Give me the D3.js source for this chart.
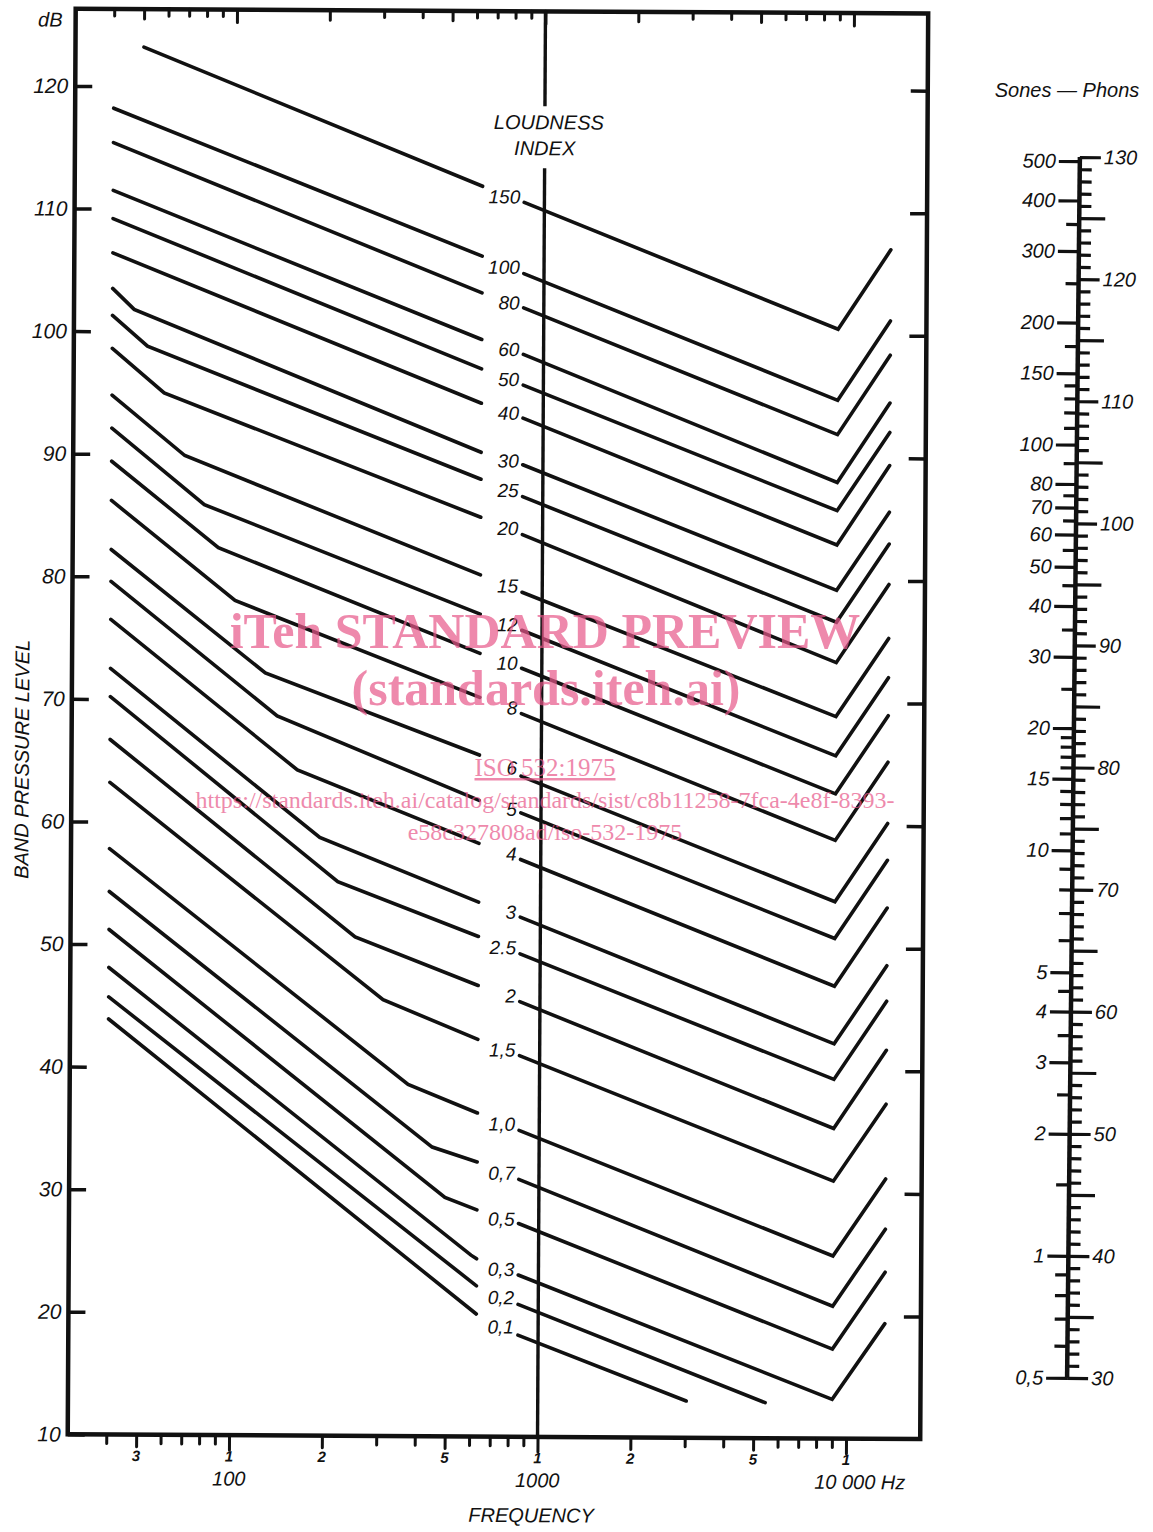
<!DOCTYPE html>
<html>
<head>
<meta charset="utf-8">
<script src="https://cdn.jsdelivr.net/npm/d3@7"></script>
<style>
  body { margin: 0; background: #fff; }
  svg { display: block; }
  text { font-family: "Liberation Sans", Arial, sans-serif; font-style: italic; fill: #111; }
  .wm { font-family: "Liberation Serif", "Times New Roman", serif; font-style: normal; fill: #e8588a; opacity: 0.7; }
</style>
</head>
<body>
<script>
// loudness index of each contour, top to bottom
const indexLabels = ["150", "100", "80", "60", "50", "40", "30", "25", "20", "15", "12", "10", "8",
  "6", "5", "4", "3", "2.5", "2", "1,5", "1,0", "0,7", "0,5", "0,3", "0,2", "0,1"];

// left half of each contour: [Hz, dB]
const leftParts = [
  [[50, 123.2], [630, 112.0]],
  [[40, 118.2], [630, 106.3]],
  [[40, 115.4], [630, 103.3]],
  [[40, 111.5], [630, 99.5]],
  [[40, 109.2], [630, 97.1]],
  [[40, 106.4], [630, 94.3]],
  [[40, 103.5], [47, 101.8], [630, 90.3]],
  [[40, 101.3], [52, 98.8], [630, 88.1]],
  [[40, 98.6], [59, 95.0], [630, 85.0]],
  [[40, 94.8], [69, 89.9], [630, 80.3]],
  [[40, 92.1], [80, 85.9], [630, 77.1]],
  [[40, 89.4], [89, 82.4], [630, 73.9]],
  [[40, 86.2], [101, 78.1], [630, 70.3]],
  [[40, 82.2], [127, 72.2], [630, 65.6]],
  [[40, 79.6], [139, 68.7], [630, 61.9]],
  [[40, 76.5], [162, 64.3], [630, 58.4]],
  [[40, 72.5], [192, 58.8], [630, 53.6]],
  [[40, 70.2], [220, 55.2], [630, 50.8]],
  [[40, 66.7], [251, 50.7], [630, 46.8]],
  [[40, 63.2], [310, 45.6], [630, 42.4]],
  [[40, 57.8], [375, 38.7], [630, 36.4]],
  [[40, 54.3], [450, 33.6], [630, 32.4]],
  [[40, 51.2], [496, 29.5], [630, 28.5]],
  [[40, 48.1], [604, 24.8], [630, 24.5]],
  [[40, 45.7], [630, 22.3]],
  [[40, 43.9], [630, 20.0]]
];

// right half of each contour: [Hz, dB]
const rightParts = [
  [[860, 110.7], [9000, 100.5], [13300, 107.0]],
  [[860, 104.9], [9000, 94.7], [13300, 101.2]],
  [[860, 102.1], [9000, 91.9], [13300, 98.4]],
  [[860, 98.3], [9000, 88.0], [13300, 94.5]],
  [[860, 95.8], [9000, 85.7], [13300, 92.1]],
  [[860, 93.1], [9000, 82.9], [13300, 89.4]],
  [[860, 89.3], [9000, 79.2], [13300, 85.6]],
  [[860, 86.7], [9000, 76.6], [13300, 83.0]],
  [[860, 83.6], [9000, 73.3], [13300, 79.7]],
  [[860, 78.9], [9000, 68.9], [13300, 75.3]],
  [[860, 75.8], [9000, 65.7], [13300, 72.1]],
  [[860, 72.7], [9000, 62.6], [13300, 69.0]],
  [[860, 69.0], [9000, 58.8], [13300, 65.2]],
  [[860, 63.9], [9000, 53.8], [13300, 60.2]],
  [[860, 60.9], [9000, 50.8], [13300, 57.2]],
  [[860, 57.1], [9000, 46.9], [13300, 53.3]],
  [[860, 52.4], [9000, 42.2], [13300, 48.6]],
  [[860, 49.4], [9000, 39.3], [13300, 45.7]],
  [[860, 45.5], [9000, 35.3], [13300, 41.7]],
  [[860, 41.1], [9000, 31.0], [13300, 37.3]],
  [[860, 35.0], [9000, 24.9], [13300, 31.2]],
  [[860, 31.0], [9000, 20.8], [13300, 27.1]],
  [[860, 27.4], [9000, 17.3], [13300, 23.6]],
  [[860, 23.2], [9000, 13.2], [13300, 19.4]],
  [[860, 20.8], [5460, 12.9]],
  [[860, 18.3], [3030, 13.0]]
];

const dbTicks = [10, 20, 30, 40, 50, 60, 70, 80, 90, 100, 110, 120];
const freqTicks = [40, 50, 60, 70, 80, 90, 100, 200, 300, 400, 500, 600, 700, 800, 900,
  1000, 2000, 3000, 4000, 5000, 6000, 7000, 8000, 9000, 10000];
const freqDigitTicks = [50, 100, 200, 500, 1000, 2000, 5000, 10000];
const freqDigitText = ["3", "1", "2", "5", "1", "2", "5", "1"];
const freqBigTicks = [100, 1000, 10000];
const freqBigText = ["100", "1000", "10 000 Hz"];

const phonLabels = [30, 40, 50, 60, 70, 80, 90, 100, 110, 120, 130];
const soneLabels = [0.5, 1, 2, 3, 4, 5, 10, 15, 20, 30, 40, 50, 60, 70, 80, 100, 150, 200, 300, 400, 500];
const soneMinor = [0.6, 0.7, 0.8, 0.9, 1.5, 2.5, 3.5, 4.5, 6, 7, 8, 9, 11, 12, 13, 14, 16, 17, 18, 19,
  25, 35, 45, 55, 65, 75, 90, 110, 120, 130, 140, 175, 250, 350];

const fMin = 30, fMax = 17400, dbMin = 10, dbMax = 126.3;

const W = 1153, H = 1532;
const svg = d3.select("body").append("svg")
  .attr("width", W)
  .attr("height", H);

svg.append("rect").attr("width", W).attr("height", H).attr("fill", "#fff");

// the scanned sheet sits a little askew
const chart = svg.append("g").attr("transform", "rotate(0.32,500,725)");

const x = d3.scaleLog().domain([fMin, fMax]).range([71.7, 924.2]);
const y = d3.scaleLinear().domain([dbMin, dbMax]).range([1436.7, 11.1]);

// frame
chart.append("rect")
  .attr("x", x(fMin)).attr("y", y(dbMax))
  .attr("width", x(fMax) - x(fMin)).attr("height", y(dbMin) - y(dbMax))
  .attr("fill", "none").attr("stroke", "#111").attr("stroke-width", 4.5);

// frequency ticks, top and bottom, length by leading digit
function tickLen(f) {
  const lead = Math.round(f / Math.pow(10, Math.floor(Math.log10(f) + 1e-9)));
  return lead === 1 ? 15 : (lead === 2 || lead === 5) ? 12 : 9;
}
[9, 12, 15].forEach(len => {
  const vals = freqTicks.filter(f => tickLen(f) === len);
  chart.append("g")
    .attr("transform", `translate(0,${y(dbMin)})`)
    .call(d3.axisBottom(x).tickValues(vals).tickSize(len).tickFormat(""))
    .call(g => g.select(".domain").remove())
    .call(g => g.selectAll("line").attr("stroke", "#111").attr("stroke-width", 3).attr("stroke-linecap", "round"));
  chart.append("g")
    .attr("transform", `translate(0,${y(dbMax)})`)
    .call(d3.axisTop(x).tickValues(vals).tickSize(-len + 2).tickFormat(""))
    .call(g => g.select(".domain").remove())
    .call(g => g.selectAll("line").attr("stroke", "#111").attr("stroke-width", 3).attr("stroke-linecap", "round"));
});

// small digit labels under the frequency ticks
chart.selectAll(".fdig").data(freqDigitTicks).join("text")
  .attr("class", "fdig")
  .attr("x", d => x(d))
  .attr("y", 1463)
  .attr("text-anchor", "middle")
  .style("font-size", "15px")
  .style("font-weight", "bold")
  .text((d, i) => freqDigitText[i]);

chart.selectAll(".fbig").data(freqBigTicks).join("text")
  .attr("class", "fbig")
  .attr("x", d => x(d))
  .attr("dx", (d, i) => i === 2 ? 14 : 0)
  .attr("y", 1487)
  .attr("text-anchor", "middle")
  .style("font-size", "20px")
  .text((d, i) => freqBigText[i]);

chart.append("text")
  .attr("x", x(1000) - 6).attr("y", 1522)
  .attr("text-anchor", "middle")
  .style("font-size", "20px")
  .text("FREQUENCY");

// dB axis, left with labels, right ticks only
chart.append("g")
  .attr("transform", `translate(${x(fMin)},0)`)
  .call(d3.axisLeft(y).tickValues(dbTicks).tickSize(-17).tickPadding(7).tickFormat(d3.format("d")))
  .call(g => g.select(".domain").remove())
  .call(g => g.attr("font-family", null).attr("font-size", null))
  .call(g => g.selectAll("line").attr("stroke", "#111").attr("stroke-width", 3.5))
  .call(g => g.selectAll("text").style("font-size", "21px").attr("fill", "#111"));

chart.append("g")
  .attr("transform", `translate(${x(fMax)},0)`)
  .call(d3.axisRight(y).tickValues(dbTicks.slice(1)).tickSize(-17).tickFormat(""))
  .call(g => g.select(".domain").remove())
  .call(g => g.selectAll("line").attr("stroke", "#111").attr("stroke-width", 3.5));

chart.append("text")
  .attr("x", x(fMin) - 13).attr("y", 29)
  .attr("text-anchor", "end")
  .style("font-size", "20px")
  .text("dB");

chart.append("text")
  .attr("transform", "translate(29,762) rotate(-90)")
  .attr("text-anchor", "middle")
  .style("font-size", "20px")
  .text("BAND PRESSURE LEVEL");

// 1000 Hz line, broken for the heading
chart.append("line")
  .attr("x1", x(1000)).attr("x2", x(1000))
  .attr("y1", y(dbMax)).attr("y2", 106)
  .attr("stroke", "#111").attr("stroke-width", 3.4);
chart.append("line")
  .attr("x1", x(1000)).attr("x2", x(1000))
  .attr("y1", 168).attr("y2", y(dbMin))
  .attr("stroke", "#111").attr("stroke-width", 3.4);

chart.append("text")
  .attr("x", x(1000) + 4).attr("y", 129)
  .attr("text-anchor", "middle")
  .style("font-size", "20px")
  .text("LOUDNESS");
chart.append("text")
  .attr("x", x(1000)).attr("y", 155)
  .attr("text-anchor", "middle")
  .style("font-size", "20px")
  .text("INDEX");

// contours
const line = d3.line().x(d => x(d[0])).y(d => y(d[1]));
const curves = chart.append("g")
  .attr("fill", "none")
  .attr("stroke", "#111")
  .attr("stroke-width", 3.6)
  .attr("stroke-linecap", "round")
  .attr("stroke-linejoin", "miter");
curves.selectAll(".lpart").data(leftParts).join("path").attr("class", "lpart").attr("d", line);
curves.selectAll(".rpart").data(rightParts).join("path").attr("class", "rpart").attr("d", line);

chart.selectAll(".idx").data(indexLabels).join("text")
  .attr("class", "idx")
  .attr("x", x(860) - 4)
  .attr("y", (d, i) => (y(leftParts[i][leftParts[i].length - 1][1]) + y(rightParts[i][0][1])) / 2 + 9)
  .attr("text-anchor", "end")
  .style("font-size", "19px")
  .text(d => d);

// sones / phons scale
const scaleG = svg.append("g").attr("transform", "rotate(0.6,1073,767)");
const sx = 1073.5;
const py = d3.scaleLinear().domain([30, 130]).range([1378, 157]);
const sy = d3.scaleLog().base(2).domain([0.5, 512]).range([1378, 157]);

const phonAll = d3.range(30, 131);
const phonSets = [
  { vals: phonAll.filter(p => p % 5 !== 0), len: 12, lab: false },
  { vals: phonAll.filter(p => p % 5 === 0 && p % 10 !== 0), len: 26, lab: false },
  { vals: phonLabels, len: 21, lab: true }
];
phonSets.forEach(s => {
  scaleG.append("g")
    .attr("transform", `translate(${sx},0)`)
    .call(d3.axisRight(py).tickValues(s.vals).tickSize(s.len).tickPadding(3)
      .tickFormat(s.lab ? d3.format("d") : ""))
    .call(g => g.select(".domain").remove())
    .call(g => g.attr("font-family", null).attr("font-size", null))
    .call(g => g.selectAll("line").attr("stroke", "#111").attr("stroke-width", 3.2))
    .call(g => g.selectAll("text").style("font-size", "20px").attr("fill", "#111"));
});

scaleG.append("g")
  .attr("transform", `translate(${sx},0)`)
  .call(d3.axisLeft(sy).tickValues(soneMinor).tickSize(13).tickFormat(""))
  .call(g => g.select(".domain").remove())
  .call(g => g.selectAll("line").attr("stroke", "#111").attr("stroke-width", 3.2));

scaleG.append("g")
  .attr("transform", `translate(${sx},0)`)
  .call(d3.axisLeft(sy).tickValues(soneLabels).tickSize(21).tickPadding(3)
    .tickFormat(d => String(d).replace(".", ",")))
  .call(g => g.select(".domain").remove())
  .call(g => g.attr("font-family", null).attr("font-size", null))
  .call(g => g.selectAll("line").attr("stroke", "#111").attr("stroke-width", 3.2))
  .call(g => g.selectAll("text").style("font-size", "20px").attr("fill", "#111"));

scaleG.append("line")
  .attr("x1", sx).attr("x2", sx)
  .attr("y1", py(130)).attr("y2", py(30))
  .attr("stroke", "#111").attr("stroke-width", 4.5);

svg.append("text")
  .attr("x", 1067).attr("y", 97)
  .attr("text-anchor", "middle")
  .style("font-size", "20px")
  .text("Sones \u2014 Phons");

// watermark overlay
const wm = svg.append("g").attr("text-anchor", "middle");
wm.append("text").attr("class", "wm").attr("x", 545).attr("y", 648)
  .style("font-size", "50px").style("font-weight", "bold").text("iTeh STANDARD PREVIEW");
wm.append("text").attr("class", "wm").attr("x", 546).attr("y", 705)
  .style("font-size", "50px").style("font-weight", "bold").text("(standards.iteh.ai)");
wm.append("text").attr("class", "wm").attr("x", 545).attr("y", 776)
  .style("font-size", "25px").style("text-decoration", "underline").text("ISO 532:1975");
wm.append("text").attr("class", "wm").attr("x", 545).attr("y", 808)
  .style("font-size", "24px").text("https://standards.iteh.ai/catalog/standards/sist/c8b11258-7fca-4e8f-8393-");
wm.append("text").attr("class", "wm").attr("x", 545).attr("y", 840)
  .style("font-size", "24px").text("e58c327808ad/iso-532-1975");
</script>
</body>
</html>
